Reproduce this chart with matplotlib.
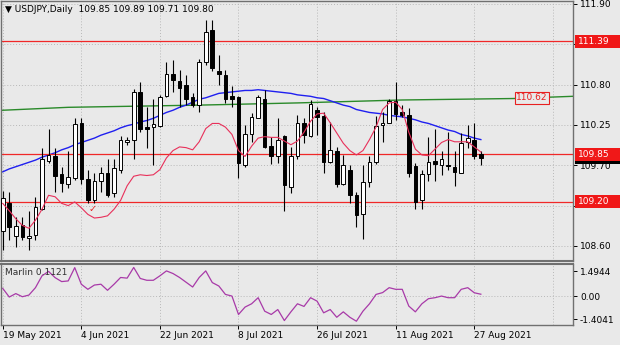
import numpy as np
import matplotlib.pyplot as plt
from matplotlib.patches import Rectangle
from matplotlib import transforms

# 日线 K 线数据 (USDJPY)
opens = [108.80, 109.19, 108.73, 108.88, 108.71, 108.75, 109.11, 109.76, 109.82, 109.58,
         109.45, 109.52, 110.27, 109.51, 109.23, 109.48, 109.60, 109.32, 109.63, 110.02,
         110.05, 110.70, 110.22, 110.22, 110.24, 110.64, 110.95, 110.85, 110.80, 110.63,
         110.52, 111.11, 111.54, 110.99, 110.93, 110.64, 110.63, 109.70, 110.12, 110.35,
         110.61, 109.96, 109.82, 110.10, 109.41, 109.82, 110.28, 110.10, 110.46, 110.37,
         109.75, 109.90, 109.45, 109.63, 109.29, 109.03, 109.47, 109.75, 110.25, 110.28,
         110.57, 110.42, 110.39, 109.69, 109.22, 109.58, 109.76, 109.70, 109.71, 109.67,
         109.60, 110.02, 110.05, 109.85]
highs = [109.35, 109.33, 109.00, 109.00, 109.07, 109.27, 109.94, 110.20, 109.94, 109.68,
         109.89, 110.34, 110.34, 109.64, 109.59, 109.68, 109.79, 109.79, 110.10, 110.09,
         110.74, 110.84, 110.50, 110.60, 110.66, 111.11, 111.14, 111.00, 110.93, 110.68,
         111.15, 111.68, 111.68, 111.20, 111.00, 110.78, 110.64, 110.25, 110.41, 110.66,
         110.72, 110.09, 110.35, 110.11, 109.95, 110.39, 110.35, 110.59, 110.50, 110.43,
         110.29, 109.95, 109.84, 109.70, 109.34, 109.70, 109.82, 110.37, 110.42, 110.61,
         110.84, 110.52, 110.48, 109.73, 109.63, 110.08, 110.19, 109.89, 110.16, 109.90,
         110.14, 110.25, 110.27, 109.89]
lows = [108.55, 108.68, 108.59, 108.68, 108.54, 108.68, 109.09, 109.73, 109.34, 109.34,
        109.39, 109.50, 109.45, 109.18, 109.18, 109.34, 109.27, 109.27, 109.60, 109.98,
        109.79, 110.16, 109.93, 109.70, 110.22, 110.63, 110.70, 110.50, 110.52, 110.50,
        110.43, 111.07, 110.98, 110.80, 110.55, 110.50, 109.52, 109.68, 110.02, 110.34,
        109.93, 109.72, 109.73, 109.07, 109.32, 109.79, 110.00, 110.09, 110.11, 109.59,
        109.73, 109.41, 109.43, 109.19, 108.86, 108.70, 109.41, 109.72, 110.02, 110.27,
        110.32, 110.36, 109.54, 109.11, 109.10, 109.48, 109.48, 109.57, 109.63, 109.42,
        109.59, 109.93, 109.78, 109.71]
closes = [109.25, 108.86, 108.87, 108.72, 108.74, 109.13, 109.78, 109.84, 109.56, 109.46,
          109.54, 110.26, 109.51, 109.23, 109.48, 109.59, 109.29, 109.66, 110.04, 110.04,
          110.70, 110.20, 110.20, 110.26, 110.63, 110.94, 110.86, 110.75, 110.61, 110.52,
          111.11, 111.52, 111.02, 110.95, 110.61, 110.61, 109.73, 110.12, 110.36, 110.63,
          109.95, 109.82, 110.04, 109.43, 109.83, 110.27, 110.11, 110.54, 110.36, 109.75,
          109.91, 109.45, 109.70, 109.29, 109.02, 109.47, 109.75, 110.23, 110.27, 110.57,
          110.40, 110.39, 109.59, 109.20, 109.58, 109.75, 109.72, 109.78, 109.69, 109.61,
          110.01, 110.07, 109.83, 109.80]

# 慢速均线 (蓝)
ma_slow = [109.61, 109.65, 109.68, 109.71, 109.74, 109.77, 109.81, 109.84, 109.87, 109.91,
           109.94, 109.98, 110.01, 110.04, 110.07, 110.11, 110.14, 110.17, 110.21, 110.24,
           110.26, 110.29, 110.31, 110.34, 110.38, 110.42, 110.45, 110.49, 110.52, 110.56,
           110.60, 110.62, 110.65, 110.68, 110.69, 110.70, 110.71, 110.72, 110.72, 110.73,
           110.72, 110.71, 110.70, 110.69, 110.68, 110.66, 110.65, 110.64, 110.62, 110.61,
           110.58, 110.55, 110.52, 110.50, 110.46, 110.44, 110.42, 110.41, 110.40, 110.38,
           110.37, 110.36, 110.34, 110.32, 110.29, 110.27, 110.24, 110.21, 110.18, 110.16,
           110.12, 110.10, 110.07, 110.05]
# 快速均线 (红)
ma_fast = [109.18, 109.08, 108.97, 108.88, 108.84, 108.95, 109.10, 109.29, 109.27, 109.18,
           109.15, 109.20, 109.12, 109.03, 108.98, 108.99, 109.01, 109.10, 109.22, 109.42,
           109.55, 109.57, 109.56, 109.57, 109.64, 109.80, 109.90, 109.95, 109.94, 109.91,
           110.02, 110.20, 110.27, 110.27, 110.22, 110.12, 109.90, 109.82, 109.96, 110.07,
           110.09, 110.08, 110.08, 110.03, 109.98, 110.03, 110.15, 110.30, 110.40, 110.41,
           110.28, 110.14, 110.00, 109.90, 109.84, 109.90, 110.05, 110.22, 110.46, 110.55,
           110.56, 110.46, 110.15, 109.92, 109.84, 109.83, 109.92, 110.01, 110.05, 110.02,
           110.02, 110.02, 109.95, 109.88]
# 长期线 (绿), 向右平移延伸
green_bars = [0, 10, 30, 45, 61, 78, 87]
green_vals = [110.45, 110.49, 110.52, 110.55, 110.59, 110.61, 110.64]

# Marlin 振荡指标
marlin = [0.47, -0.06, 0.15, -0.04, 0.06, 0.51, 1.23, 1.50, 1.12, 0.88,
          0.92, 1.73, 0.72, 0.41, 0.67, 0.72, 0.35, 0.72, 1.13, 1.09,
          1.74, 1.07, 0.96, 0.96, 1.23, 1.53, 1.37, 1.13, 0.84, 0.55,
          1.13, 1.53, 0.82, 0.61, 0.10, 0.00, -1.12, -0.67, -0.47, -0.10,
          -0.92, -1.12, -0.82, -1.49, -0.96, -0.47, -0.63, -0.10, -0.31, -1.02,
          -0.82, -1.29, -0.96, -1.29, -1.53, -0.92, -0.47, 0.10, 0.21, 0.51,
          0.41, 0.41, -0.61, -0.96, -0.47, -0.16, -0.10, 0.00, -0.10, -0.10,
          0.41, 0.51, 0.20, 0.1121]

# 水平位
levels = [111.39, 109.85, 109.20]
green_label = 110.62
price_ticks = [111.90, 111.35, 110.80, 110.25, 109.70, 109.15, 108.60]
date_idx = [0, 12, 24, 36, 48, 60, 72]
date_labels = ['19 May 2021', '4 Jun 2021', '22 Jun 2021', '8 Jul 2021',
               '26 Jul 2021', '11 Aug 2021', '27 Aug 2021']
marlin_ticks = [1.4944, 0.0, -1.4041]
marlin_labels = ['1.4944', '0.00', '-1.4041']
check_bar, check_price = 13.8, 109.10

BG = '#e9e9e9'
W, H = 620, 345
plt.rcParams['font.family'] = 'DejaVu Sans'
fig = plt.figure(figsize=(W / 100, H / 100), dpi=100, facecolor=BG)


def px_box(x0, y0, x1, y1):
    return [x0 / W, 1 - y1 / H, (x1 - x0) / W, (y1 - y0) / H]


ax = fig.add_axes(px_box(1, 1, 573, 261), facecolor=BG)
ax2 = fig.add_axes(px_box(1, 264, 573, 324.5), facecolor=BG)

n = len(closes)
x = np.arange(n)
o = np.array(opens); c = np.array(closes)
hi = np.array(highs); lo = np.array(lows)

# 网格
for a in (ax, ax2):
    for d in range(0, 90, 12):
        a.axvline(d, color='#b8b8b8', lw=0.7, ls=(0, (1, 2)), zorder=0)
for p in price_ticks:
    ax.axhline(p, color='#b8b8b8', lw=0.7, ls=(0, (1, 2)), zorder=0)
ax2.axhline(0, color='#b8b8b8', lw=0.7, ls=(0, (1, 2)), zorder=0)

# 绿线与均线
ax.plot(green_bars, green_vals, color='#2a8a2a', lw=1.0, zorder=2)
ax.plot(x, ma_slow, color='#1f1ff0', lw=1.0, zorder=2)
ax.plot(x, ma_fast, color='#e8305a', lw=0.8, zorder=4)

# 水平位
for lv in levels:
    ax.axhline(lv, color='#f02828', lw=0.9, zorder=2)

# K 线
ax.vlines(x, lo, hi, color='black', lw=0.8, zorder=3)
up = c >= o
body_lo = np.minimum(o, c)
body_h = np.maximum(np.abs(c - o), 0.012)
ax.bar(x[up], body_h[up], bottom=body_lo[up], width=0.55, color='white',
       edgecolor='black', lw=0.7, zorder=3)
ax.bar(x[~up], body_h[~up], bottom=body_lo[~up], width=0.55, color='black',
       edgecolor='black', lw=0.7, zorder=3)

ax.text(check_bar, check_price, '\u2713', color='#e82020', fontsize=7,
        ha='center', va='center', zorder=5)

# 绿线标签
ax.text(80.8, green_label, f'{green_label:.2f}', color='#e82020', fontsize=6.5,
        ha='center', va='center', zorder=5,
        bbox=dict(boxstyle='square,pad=0.15', fc=BG, ec='#e82020', lw=0.8))

xlim = (-0.26, 87.07)
ax.set_xlim(*xlim)
ax.set_ylim(108.394, 111.94)
ax2.set_xlim(*xlim)
ax2.set_ylim(-1.73, 1.95)

for a in (ax, ax2):
    for s in a.spines.values():
        s.set_color('#707070')
        s.set_linewidth(1.0)
    a.yaxis.tick_right()
    a.tick_params(axis='y', direction='out', length=3, width=0.7, pad=2,
                  labelsize=6.5, colors='black')
ax.spines['bottom'].set_linewidth(1.5)
ax2.spines['top'].set_linewidth(1.5)

# 被价格标签遮住的刻度不写文字
ax.set_yticks(price_ticks)
ax.set_yticklabels(['' if any(abs(p - lv) < 0.1 for lv in levels) else f'{p:.2f}'
                    for p in price_ticks])
ax.set_xticks([])
ax2.set_yticks(marlin_ticks)
ax2.set_yticklabels(marlin_labels)
ax2.set_xticks(date_idx)
ax2.set_xticklabels(date_labels, ha='left')
ax2.tick_params(axis='x', direction='out', length=3, width=0.7, pad=2,
                labelsize=6.5, colors='black')

# 右侧价格标签
blend = transforms.blended_transform_factory(fig.transFigure, ax.transData)
tag_h = 13 / 73.3


def price_tag(price, fc, text=None):
    ax.add_patch(Rectangle((575 / W, price - tag_h / 2), 45 / W, tag_h,
                           transform=blend, facecolor=fc, edgecolor='none',
                           clip_on=False, zorder=6))
    if text:
        ax.text(578 / W, price, text, transform=blend, color='white',
                fontsize=6.5, ha='left', va='center', zorder=7, clip_on=False)


price_tag(closes[-1], 'black')
for lv in levels:
    price_tag(lv, '#f01818', f'{lv:.2f}')

# Marlin 振荡指标
ax2.plot(x, marlin, color='#a83aa8', lw=0.9)
ax2.text(0.007, 0.86, f'Marlin {marlin[-1]:.4f}', transform=ax2.transAxes,
         fontsize=6.5, color='#303030', va='center')

fig.text(5 / W, 1 - 10 / H,
         '\u25bc USDJPY,Daily  %.2f %.2f %.2f %.2f' % (opens[-1], highs[-1], lows[-1], closes[-1]),
         fontsize=6.5, va='center', color='black')

fig.savefig('out.png', dpi=100, facecolor=BG)
